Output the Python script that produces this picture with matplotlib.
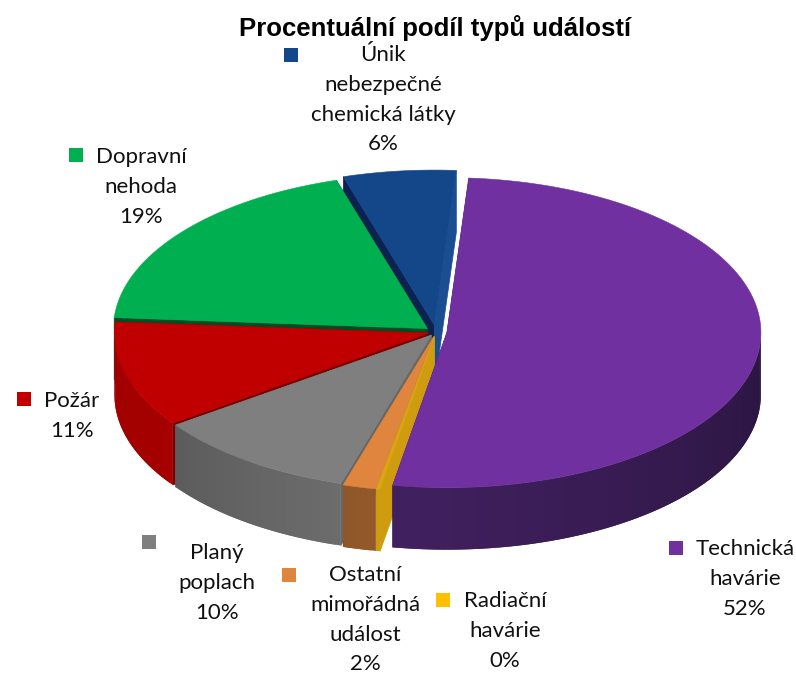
import numpy as np
import matplotlib as mpl

mpl.use('Agg')
import matplotlib.pyplot as plt

# Data (slice sizes) and its labels
categories = ['Únik\nnebezpečné\nchemická látky', 'Dopravní\nnehoda', 'Požár', 'Planý\npoplach',
              'Ostatní\nmimořádná\nudálost', 'Radiační\nhavárie', 'Technická\nhavárie']
values = [5.8, 19.2, 11.0, 10.5, 1.7, 0.2, 51.7]
percent_labels = ['6%', '19%', '11%', '10%', '2%', '0%', '52%']

# Styles, same order as the categories
top_colors = ['#14478a', '#00b050', '#c00000', '#7f7f7f', '#e0853d', '#d9a514', '#7030a0']
legend_colors = ['#14478a', '#00b050', '#c00000', '#7f7f7f', '#e0853d', '#ffc000', '#7030a0']
# cut face at the start (clockwise) and at the end of each slice
cut_start = ['#1b4e90', '#004d24', '#7d0000', '#62686b', '#93592b', '#cf9c10', '#3d1c5e']
cut_end = ['#0c2352', '#004d24', '#7d0000', '#62686b', '#93592b', '#cf9c10', '#3d1c5e']
side_colors = [('#14478a', '#14478a'), ('#00803a', '#00803a'), ('#a60000', '#a00000'),
               ('#6c6c6c', '#5c5c5c'), ('#93592b', '#8f5629'), ('#cf9c10', '#cf9c10'),
               ('#2a1540', '#41205f')]
explode = [0.045, 0.035, 0.025, 0.025, 0.03, 0.03, 0.035]

# Label positions in pixels (text centre, first line y) and marker positions
text_x = [383, 141, 72, 217, 365, 505, 745]
text_y = [55, 157, 401, 553, 575, 601, 549]
marker_x = [291, 76, 24, 149, 289, 443, 676]
marker_y = [55, 155, 399, 542, 575, 600, 548]

# Geometry of the projected pie
cx, cy = 436, 332
rx, ry = 314, 155
depth = 62
start_angle = 4.0
line_gap = 29.8


def ell(t, ox, oy, dz=0):
    # t in degrees clockwise from the top
    t = np.radians(t)
    return ox + rx * np.sin(t), oy - ry * np.cos(t) + dz


fig = plt.figure(figsize=(7.96, 6.74), dpi=100)
ax = fig.add_axes([0, 0, 1, 1])
ax.set_xlim(0, 796)
ax.set_ylim(674, 0)
ax.axis('off')

# slice angles, clockwise; purple slice starts the pie
values_arr = np.array(values)
sweep = values_arr / values_arr.sum() * 360.0
order = [6, 5, 4, 3, 2, 1, 0]
t0 = {}
t = start_angle
for i in order:
    t0[i] = t
    t += sweep[i]

# back slices first, purple goes last because it covers the others
for i in range(len(values)):
    a = t0[i]
    b = a + sweep[i]
    mid = (a + b) / 2
    ox = cx + rx * np.sin(np.radians(mid)) * explode[i]
    oy = cy - ry * np.cos(np.radians(mid)) * explode[i]

    # cut faces
    for edge, col in ((a, cut_end[i]), (b, cut_start[i])):
        ex, ey = ell(edge, ox, oy)
        ax.fill([ox, ex, ex, ox], [oy, ey, ey + depth, oy + depth],
                color=col, lw=0.5, zorder=2 + i)

    # outer wall, only the part facing us
    lo, hi = max(a, 90), min(b, 270)
    if hi > lo:
        ts = np.linspace(lo, hi, int(hi - lo) + 2)
        c1 = np.array(mpl.colors.to_rgb(side_colors[i][0]))
        c2 = np.array(mpl.colors.to_rgb(side_colors[i][1]))
        for j in range(len(ts) - 1):
            x1, y1 = ell(ts[j], ox, oy)
            # overlap the next strip so that no seams show
            x2, y2 = ell(ts[min(j + 2, len(ts) - 1)], ox, oy)
            f = j / max(len(ts) - 2, 1)
            ax.fill([x1, x2, x2, x1], [y1, y2, y2 + depth, y1 + depth],
                    color=c1 + (c2 - c1) * f, lw=0, zorder=2 + i)

    # top face
    ts = np.linspace(a, b, int(sweep[i]) + 3)
    xs, ys = ell(ts, ox, oy)
    ax.fill(np.r_[ox, xs], np.r_[oy, ys], color=top_colors[i], lw=0.4, zorder=2 + i)

# labels
for i, name in enumerate(categories):
    lines = name.split('\n') + [percent_labels[i]]
    for k, line in enumerate(lines):
        ax.text(text_x[i], text_y[i] + k * line_gap, line, ha='center', va='center',
                fontsize=16, family='Lato', color='#111111', zorder=20)
    ax.scatter(marker_x[i], marker_y[i], s=90, marker='s', color=legend_colors[i],
               linewidths=0, zorder=20)

ax.text(435, 28, 'Procentuální podíl typů událostí', ha='center', va='center',
        fontsize=18.5, fontweight='bold', family='Liberation Sans', color='black', zorder=20)

plt.savefig('out.png', dpi=100)
